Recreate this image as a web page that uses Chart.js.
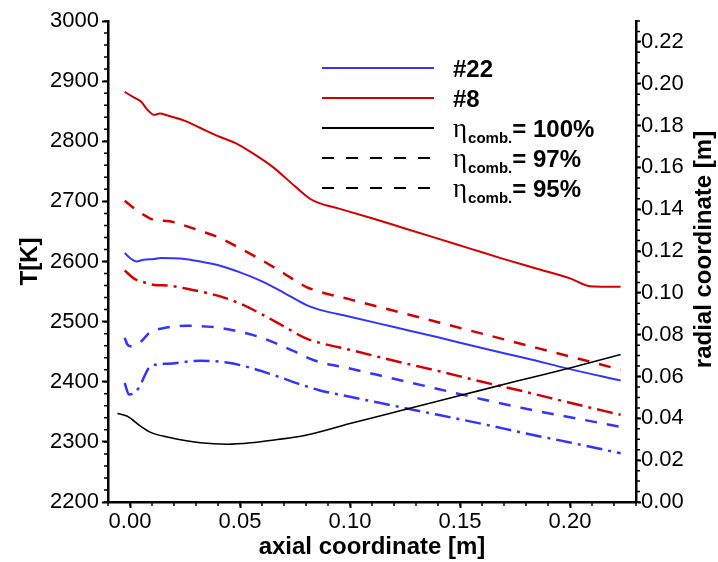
<!DOCTYPE html>
<html>
<head>
<meta charset="utf-8">
<script src="https://cdn.jsdelivr.net/npm/chart.js@4.4.0/dist/chart.umd.min.js"></script>
<style>
  html, body { margin: 0; padding: 0; background: #fff; }
</style>
</head>
<body>
<canvas id="myChart" width="718" height="562"></canvas>
<script>
// axial coordinate [m] / temperature [K]
const xRed100 = [-0.0024, 0.0017, 0.005, 0.008, 0.011, 0.0135, 0.017, 0.025, 0.032, 0.041, 0.048, 0.055, 0.065, 0.075, 0.082, 0.086, 0.095, 0.11, 0.125, 0.14, 0.155, 0.17, 0.185, 0.2, 0.209, 0.223];
const tRed100 = [2882, 2873, 2866, 2852, 2844, 2846, 2843, 2834, 2822, 2807, 2797, 2782, 2757, 2725, 2704, 2697, 2688, 2672, 2655, 2638, 2621, 2604, 2588, 2572, 2559, 2558];

const xRed97 = [-0.0024, 0.0017, 0.007, 0.011, 0.018, 0.023, 0.032, 0.041, 0.05, 0.06, 0.07, 0.08, 0.086, 0.1, 0.12, 0.14, 0.16, 0.18, 0.2, 0.223];
const tRed97 = [2701, 2689, 2676, 2669, 2667, 2662, 2651, 2639, 2622, 2602, 2580, 2558, 2550, 2537, 2518, 2499, 2480, 2461, 2442, 2420];

const xRed95 = [-0.0024, 0.0017, 0.005, 0.011, 0.017, 0.028, 0.041, 0.05, 0.06, 0.07, 0.08, 0.086, 0.1, 0.12, 0.14, 0.16, 0.18, 0.2, 0.223];
const tRed95 = [2585, 2572, 2567, 2561, 2560, 2553, 2542, 2530, 2512, 2492, 2472, 2465, 2453, 2435, 2418, 2400, 2383, 2365, 2345];

const xBlue100 = [-0.0024, 0.0003, 0.003, 0.0063, 0.011, 0.014, 0.023, 0.032, 0.041, 0.05, 0.06, 0.07, 0.08, 0.086, 0.1, 0.12, 0.14, 0.16, 0.18, 0.2, 0.223];
const tBlue100 = [2614, 2605, 2600, 2603, 2604, 2606, 2605, 2600, 2593, 2582, 2567, 2548, 2528, 2520, 2508, 2491, 2474, 2456, 2439, 2421, 2402];

const xBlue97 = [-0.0024, -0.0012, 0.0003, 0.005, 0.009, 0.015, 0.026, 0.038, 0.049, 0.06, 0.075, 0.082, 0.086, 0.1, 0.12, 0.14, 0.16, 0.18, 0.2, 0.223];
const tBlue97 = [2473, 2462, 2459, 2467, 2482, 2489, 2493, 2491, 2484, 2473, 2450, 2438, 2433, 2422, 2405, 2388, 2371, 2355, 2341, 2325];

const xBlue95 = [-0.0024, -0.0005, 0.0018, 0.004, 0.0094, 0.017, 0.032, 0.044, 0.055, 0.067, 0.078, 0.086, 0.1, 0.12, 0.14, 0.16, 0.18, 0.2, 0.223];
const tBlue95 = [2398, 2379, 2381, 2390, 2426, 2430, 2435, 2432, 2423, 2409, 2395, 2386, 2375, 2360, 2345, 2330, 2314, 2299, 2281];

// contour, radial coordinate [m]
const xContour = [-0.0057, -0.0012, 0.0049, 0.0094, 0.017, 0.032, 0.0443, 0.0549, 0.067, 0.0776, 0.1, 0.125, 0.15, 0.175, 0.2, 0.223];
const rContour = [0.0423, 0.041, 0.0362, 0.0333, 0.0311, 0.0283, 0.0276, 0.0283, 0.0299, 0.0314, 0.0375, 0.0442, 0.0509, 0.0576, 0.0641, 0.0705];

const xTicks = [0, 0.05, 0.1, 0.15, 0.2];
const yTicks = [2200, 2300, 2400, 2500, 2600, 2700, 2800, 2900, 3000];
const y2Ticks = [0, 0.02, 0.04, 0.06, 0.08, 0.1, 0.12, 0.14, 0.16, 0.18, 0.2, 0.22];

const caseNames = ['#22', '#8'];
const effNames = ['100%', '97%', '95%'];
const rightTitle = 'radial coordinate [m]';

const blue = '#3434ff';
const red = '#d40000';
const dashed = [12, 10];
const dashDot = [16, 6, 3, 6];

function pairs(xs, ys) {
    return xs.map((x, i) => ({x: x, y: ys[i]}));
}

function tickFont(size) {
    return {family: '"Liberation Sans", Arial, sans-serif', size: size};
}
const titleFont = {family: '"Liberation Sans", Arial, sans-serif', size: 24, weight: 'bold'};

// short minor ticks, the library only draws the major ones
const minorTicks = {
    id: 'minorTicks',
    afterDraw(chart) {
        const ctx = chart.ctx;
        const xs = chart.scales.x, ys = chart.scales.y, y2 = chart.scales.y2;
        ctx.save();
        ctx.strokeStyle = '#000';
        ctx.lineWidth = 1.5;
        ctx.beginPath();
        for (let i = 0; i <= 24; i++) {
            const px = xs.getPixelForValue(-0.01 + i * 0.01);
            ctx.moveTo(px, xs.top); ctx.lineTo(px, xs.top + 4);
        }
        for (let i = 0; i <= 40; i++) {
            const py = ys.getPixelForValue(2200 + i * 20);
            ctx.moveTo(ys.right, py); ctx.lineTo(ys.right - 4, py);
        }
        for (let i = 0; i <= 46; i++) {
            const py = y2.getPixelForValue(i * 0.005);
            ctx.moveTo(y2.left, py); ctx.lineTo(y2.left + 4, py);
        }
        ctx.stroke();

        // right axis title reads bottom to top, like the left one
        ctx.fillStyle = '#000';
        ctx.font = 'bold 24px "Liberation Sans"';
        ctx.textAlign = 'center';
        ctx.textBaseline = 'middle';
        ctx.translate(y2.right - 14, (chart.chartArea.top + chart.chartArea.bottom) / 2 - 12);
        ctx.rotate(-Math.PI / 2);
        ctx.fillText(rightTitle, 0, 0);
        ctx.restore();
    }
};

// legend with the subscripted eta entries
const legendBox = {
    id: 'legendBox',
    afterDraw(chart) {
        const ctx = chart.ctx;
        const x0 = 322, x1 = 434, tx = 453, top = 68, step = 30;
        const colors = [blue, red, '#000', '#000', '#000'];
        const dashes = [[], [], [], [12, 12], [12, 12]];
        const names = caseNames.concat(effNames);
        names.forEach((name, i) => {
            const y = top + i * step;
            ctx.save();
            ctx.strokeStyle = colors[i];
            ctx.lineWidth = 2;
            ctx.setLineDash(dashes[i]);
            ctx.beginPath(); ctx.moveTo(x0, y); ctx.lineTo(x1, y); ctx.stroke();
            ctx.restore();
            ctx.save();
            ctx.fillStyle = '#000';
            ctx.textBaseline = 'alphabetic';
            const base = y + 9;
            if (i < caseNames.length) {
                ctx.font = 'bold 24px "Liberation Sans"';
                ctx.fillText(name, tx, base);
            } else {
                ctx.font = '27px "Liberation Serif"';
                ctx.fillText('η', tx, base);
                let x = tx + ctx.measureText('η').width + 1;
                ctx.font = 'bold 15px "Liberation Sans"';
                ctx.fillText('comb.', x, base + 6);
                x += ctx.measureText('comb.').width;
                ctx.font = 'bold 24px "Liberation Sans"';
                ctx.fillText('= ' + name, x, base);
            }
            ctx.restore();
        });
    }
};

const axisBorder = {display: true, color: '#000', width: 2.5};
const axisGrid = {display: true, drawOnChartArea: false, drawTicks: true, tickLength: 6, tickWidth: 2, tickColor: '#000'};

const ctx = document.getElementById('myChart');
const chartGraphic = new Chart(ctx, {
    type: 'line',
    data: {
        datasets: [
            {label: 'contour', data: pairs(xContour, rContour), yAxisID: 'y2', borderColor: '#000', borderWidth: 1.6},
            {label: '#8 100%', data: pairs(xRed100, tRed100), borderColor: red, borderWidth: 2},
            {label: '#8 97%', data: pairs(xRed97, tRed97), borderColor: red, borderWidth: 2.5, borderDash: dashed},
            {label: '#8 95%', data: pairs(xRed95, tRed95), borderColor: red, borderWidth: 2.5, borderDash: dashDot},
            {label: '#22 100%', data: pairs(xBlue100, tBlue100), borderColor: blue, borderWidth: 2},
            {label: '#22 97%', data: pairs(xBlue97, tBlue97), borderColor: blue, borderWidth: 2.5, borderDash: dashed},
            {label: '#22 95%', data: pairs(xBlue95, tBlue95), borderColor: blue, borderWidth: 2.5, borderDash: dashDot},
        ]
    },
    options: {
        responsive: false,
        animation: false,
        layout: {padding: {top: 21, left: 0, right: 0, bottom: 0}},
        elements: {point: {radius: 0}, line: {cubicInterpolationMode: 'monotone', fill: false}},
        plugins: {legend: {display: false}, tooltip: {enabled: false}},
        scales: {
            x: {
                type: 'linear', min: -0.01, max: 0.23,
                afterBuildTicks: s => { s.ticks = xTicks.map(v => ({value: v})); },
                afterFit: s => { s.height = 60; },
                ticks: {font: tickFont(22), color: '#000', padding: 1, maxRotation: 0, autoSkip: false, callback: v => v.toFixed(2)},
                grid: axisGrid, border: axisBorder,
                title: {display: true, text: 'axial coordinate [m]', font: titleFont, color: '#000', padding: {top: 0, bottom: 0}}
            },
            y: {
                type: 'linear', position: 'left', min: 2200, max: 3000,
                afterBuildTicks: s => { s.ticks = yTicks.map(v => ({value: v})); },
                afterFit: s => { s.width = 108; },
                ticks: {font: tickFont(22), color: '#000', padding: 3, autoSkip: false, callback: v => String(v)},
                grid: axisGrid, border: axisBorder,
                title: {display: true, text: 'T[K]', font: titleFont, color: '#000', padding: {top: 16, bottom: 0}}
            },
            y2: {
                type: 'linear', position: 'right', min: 0, max: 0.23,
                afterBuildTicks: s => { s.ticks = y2Ticks.map(v => ({value: v})); },
                afterFit: s => { s.width = 82; },
                ticks: {font: tickFont(22), color: '#000', padding: 0, autoSkip: false, callback: v => v.toFixed(2)},
                grid: {display: true, drawOnChartArea: false, drawTicks: true, tickLength: 5, tickWidth: 2, tickColor: '#000'},
                border: axisBorder,
                title: {display: false}
            }
        }
    },
    plugins: [minorTicks, legendBox]
});
</script>
</body>
</html>
